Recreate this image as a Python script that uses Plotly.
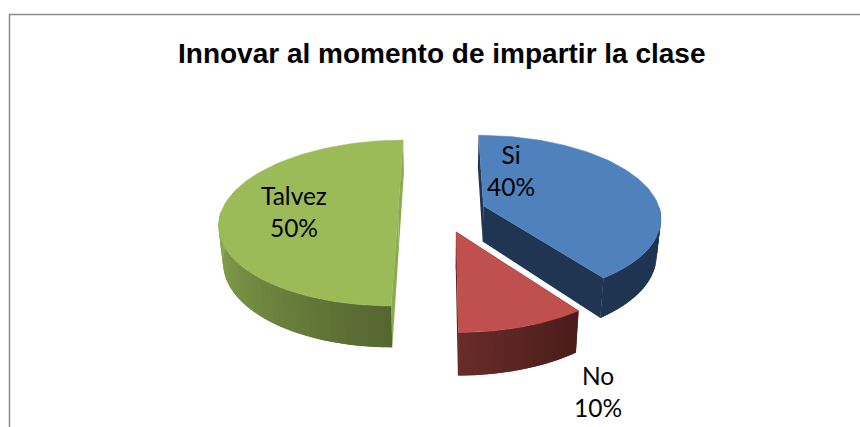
import math
import plotly.graph_objects as go

labels = ["Si", "No", "Talvez"]
values = [40, 10, 50]
title = "Innovar al momento de impartir la clase"
top_colors = ["#4F81BD", "#C0504D", "#9BBB59"]
wall_left = ["#1F3552", "#682C2A", "#8CAA50"]
wall_right = ["#1F3552", "#4A1C1A", "#556530"]
cut_colors = ["#1F3552", "#4A1C1A", "#8CAA50"]
label_pos = [(511, 170.5), (598, 391), (294, 211)]

CX, CY, R, EXPLODE, FLAT, K, DEPTH, SHRINK = 442, 212, 177, 44, 0.46, 0.00075, 36, 0.98


def project(mid, theta, r, bottom=False):
    X = EXPLODE * math.sin(mid) + r * math.sin(theta)
    Y = -EXPLODE * math.cos(mid) - r * math.cos(theta)
    s = 1 / (1 - K * Y)
    if bottom:
        return CX + X * s * SHRINK, CY + FLAT * Y * s + DEPTH * s
    return CX + X * s, CY + FLAT * Y * s


def mix(a, b, t):
    ca = [int(a[i:i + 2], 16) for i in (1, 3, 5)]
    cb = [int(b[i:i + 2], 16) for i in (1, 3, 5)]
    return "rgb(%d,%d,%d)" % tuple(round(x + (y - x) * t) for x, y in zip(ca, cb))


def poly(fig, pts, color, width=0.0):
    fig.add_trace(go.Scatter(
        x=[p[0] for p in pts] + [pts[0][0]], y=[p[1] for p in pts] + [pts[0][1]],
        mode="lines", fill="toself", fillcolor=color,
        line=dict(color=color, width=width), hoverinfo="skip", showlegend=False))


fig = go.Figure()

# Frame of the chart (open on the right and bottom, as in the picture)
fig.add_trace(go.Scatter(x=[9.5, 9.5, 860], y=[427, 14.5, 14.5], mode="lines",
                         line=dict(color="#8C8C8C", width=1.5),
                         hoverinfo="skip", showlegend=False))

total = sum(values)
spans = []
a = 0.0
for v in values:
    b = a + v / total * 2 * math.pi
    spans.append((a, b))
    a = b

for i in (2, 0, 1):
    a, b = spans[i]
    mid = (a + b) / 2
    # straight cut walls
    for th in (a, b):
        poly(fig, [project(mid, th, 0), project(mid, th, R), project(mid, th, R, True), project(mid, th, 0, True)], cut_colors[i])
    # curved outer wall, overlapping strips for a seamless shading
    n = 40
    lo = max(a, math.pi / 2)
    hi = min(b, 3 * math.pi / 2)
    step = (hi - lo) / n
    for j in range(n):
        t0 = lo + step * j
        t1 = min(t0 + 2 * step, hi)
        col = mix(wall_right[i], wall_left[i], (j + 0.5) / n)
        poly(fig, [project(mid, t0, R), project(mid, (t0 + t1) / 2, R), project(mid, t1, R),
                   project(mid, t1, R, True), project(mid, (t0 + t1) / 2, R, True), project(mid, t0, R, True)], col)
    # top face
    steps = 90
    arc = [project(mid, a + (b - a) * j / steps, R) for j in range(steps + 1)]
    poly(fig, [project(mid, a, 0)] + arc, top_colors[i], 0.5)

for lab, v, (x, y) in zip(labels, values, label_pos):
    fig.add_annotation(x=x, y=y, xref="x", yref="y", showarrow=False,
                       text=f"{lab}<br>{v}%", align="center",
                       font=dict(family="Lato", size=24.5, color="#000000"))

fig.add_annotation(x=442, y=53.5, xref="x", yref="y", showarrow=False, text=f"<b>{title}</b>",
                   font=dict(family="Liberation Sans", size=28, color="#000000"))

fig.update_layout(width=860, height=427, margin=dict(l=0, r=0, t=0, b=0),
                  paper_bgcolor="white", plot_bgcolor="white", showlegend=False,
                  xaxis=dict(range=[0, 860], visible=False, fixedrange=True),
                  yaxis=dict(range=[427, 0], visible=False, fixedrange=True))
fig.write_html("out.html", config={"displayModeBar": False},
               post_script="document.body.style.margin='0';document.documentElement.style.overflow='hidden';")
